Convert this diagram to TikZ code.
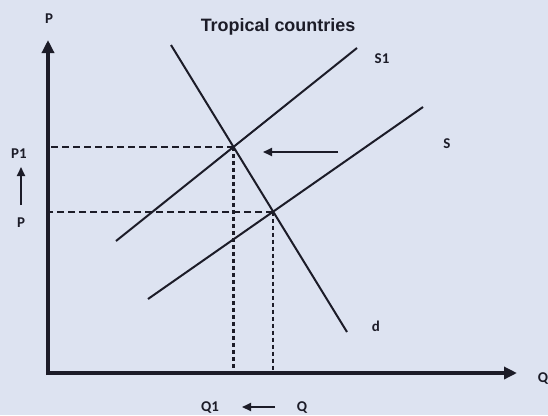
\documentclass[tikz,border=0pt]{standalone}
\usepackage{fontspec}
\setmainfont{Carlito}
\newfontfamily\titlefont{Liberation Sans}
\usetikzlibrary{arrows.meta}
\definecolor{bgc}{RGB}{221,227,241}
\definecolor{ink}{RGB}{28,28,40}
\tikzset{
  axisline/.style={ink, line width=4bp, -{Triangle[length=13bp,width=12bp]}},
  curve/.style={ink, line width=2bp},
  guide/.style={ink, line width=2bp, dash pattern=on 7bp off 4bp},
  vguide/.style={ink, line width=2.4bp, dash pattern=on 4bp off 3bp},
  shift arrow/.style={ink, line width=1.8bp, -{Triangle[length=9bp,width=8bp]}},
  lbl/.style={text=ink, font=\fontsize{15}{17}\selectfont\bfseries, inner sep=0pt},
}
\begin{document}
\begin{tikzpicture}[x=1bp,y=-1bp]
\fill[bgc] (0,0) rectangle (548,415);
\useasboundingbox (0,0) rectangle (548,415);
% axes
\coordinate (O) at (48,373);
\coordinate (Ytop) at (48,40);
\coordinate (Xend) at (517,373);
\draw[axisline] (48,375) -- (Ytop);
\draw[axisline] (46,373) -- (Xend);
% curves
\coordinate (s1a) at (116,241);
\coordinate (s1b) at (357,48);
\coordinate (sa) at (148,299);
\coordinate (sb) at (423,107);
\coordinate (da) at (171,45);
\coordinate (db) at (347,332);
\draw[curve] (s1a) -- (s1b);
\draw[curve] (sa) -- (sb);
\draw[curve] (da) -- (db);
\coordinate (E1) at (intersection of s1a--s1b and da--db);
\coordinate (E0) at (intersection of sa--sb and da--db);
% guides
\draw[guide] (E1) -- (E1 -| O);
\draw[guide] (E0) -- (E0 -| O);
\draw[vguide] (E1) -- (E1 |- O);
\draw[vguide] (E0) -- (E0 |- O);
% labels
\node[lbl, font=\fontsize{18}{20}\selectfont\titlefont\bfseries] (title) at (278,27) {Tropical countries};
\node[lbl] (Plab) at (49,19) {P};
\node[lbl] (S1lab) at (382,59) {S1};
\node[lbl] (Slab) at (447,144) {S};
\node[lbl] (dlab) at (376,326) {d};
\node[lbl] (P1) at (19,154) {P1};
\node[lbl] (P0) at (21,223) {P};
\node[lbl] (Qax) at (543,379) {Q};
\node[lbl] (Q1) at (210,408) {Q1};
\node[lbl] (Q0) at (302,408) {Q};
% shift arrows
\coordinate (ha) at (338,152);
\coordinate (hb) at (263,152);
\draw[shift arrow] (ha) -- (hb);
\draw[shift arrow] (P0.north |- 0,205) coordinate (ua) -- (P0.north |- 0,167);
\draw[shift arrow] (275,407) coordinate (qa) -- (242,407);
\end{tikzpicture}
\end{document}
